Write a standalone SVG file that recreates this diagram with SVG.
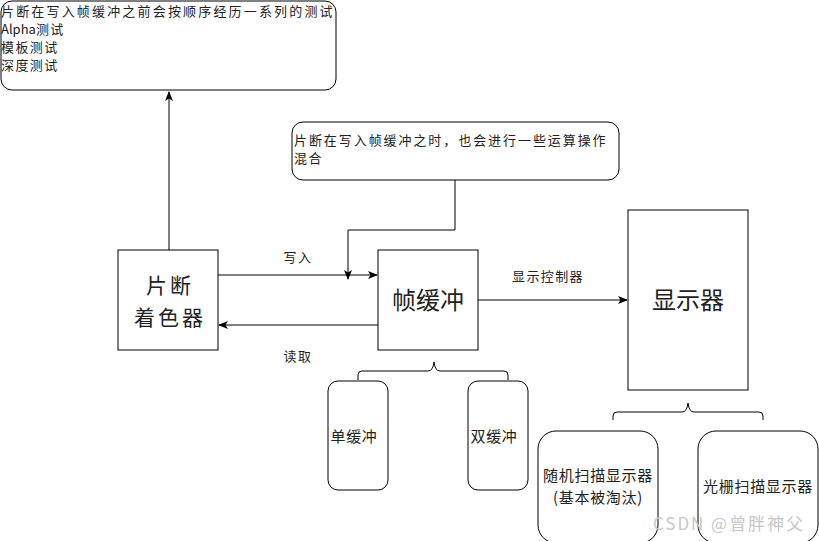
<svg xmlns="http://www.w3.org/2000/svg" width="819" height="541" viewBox="0 0 819 541">
<style>
text{font-family:"Noto Sans CJK SC","Liberation Sans",sans-serif;fill:#222}
.box{fill:#fff;stroke:#000;stroke-width:1}
.ln{fill:none;stroke:#000;stroke-width:1}
.s{font-size:13px;letter-spacing:1.4px}
.b{font-size:24px}
.b2{font-size:21px;letter-spacing:3px}
.m{font-size:15px;letter-spacing:0.7px}
</style>
<defs>
<marker id="ah" viewBox="0 0 10 10" refX="9" refY="5" markerWidth="10" markerHeight="10" markerUnits="userSpaceOnUse" orient="auto">
<path d="M0,1 L10,5 L0,9 L2.5,5 Z" fill="#000"/>
</marker>
</defs>
<rect width="819" height="541" fill="#fff"/>
<g id="connectors">
<path class="ln" d="M169,250 V92" marker-end="url(#ah)"/>
<path class="ln" d="M455,180 V230 H348 V279" marker-end="url(#ah)"/>
<path class="ln" d="M218,275 H377" marker-end="url(#ah)"/>
<path class="ln" d="M378,325 H219" marker-end="url(#ah)"/>
<path class="ln" d="M478,300 H627" marker-end="url(#ah)"/>
<path class="ln" d="M358,380 V375 Q358,371 362,371 H428 Q433,371 434,362 Q435,371 440,371 H504 Q508,371 508,375 V380"/>
<path class="ln" d="M613,420 V416 Q613,412 617,412 H682 Q687,412 688,403 Q689,412 694,412 H759 Q763,412 763,416 V420"/>
<text class="s" x="298" y="262" text-anchor="middle">写入</text>
<text class="s" x="298" y="361" text-anchor="middle">读取</text>
<text class="s" x="548" y="281" text-anchor="middle">显示控制器</text>
</g>
<g id="note-top">
<rect class="box" x="1" y="1" width="335" height="89" rx="11"/>
<text class="s" x="1" y="16" textLength="333" lengthAdjust="spacing">片断在写入帧缓冲之前会按顺序经历一系列的测试</text>
<text class="s" x="1" y="34"><tspan style="letter-spacing:0">Alpha</tspan>测试</text>
<text class="s" x="1" y="52">模板测试</text>
<text class="s" x="1" y="70">深度测试</text>
</g>
<g id="note-mid">
<rect class="box" x="292" y="122" width="327" height="58" rx="11"/>
<text class="s" x="294" y="145" textLength="313" lengthAdjust="spacing">片断在写入帧缓冲之时，也会进行一些运算操作</text>
<text class="s" x="294" y="163">混合</text>
</g>
<g id="shader">
<rect class="box" x="118" y="250" width="100" height="100"/>
<text class="b2" x="170" y="293" text-anchor="middle">片断</text>
<text class="b2" x="170" y="325" text-anchor="middle">着色器</text>
</g>
<g id="framebuffer">
<rect class="box" x="378" y="250" width="100" height="100"/>
<text class="b" x="428" y="309" text-anchor="middle">帧缓冲</text>
</g>
<g id="display">
<rect class="box" x="628" y="210" width="120" height="180"/>
<text class="b" x="688" y="309" text-anchor="middle">显示器</text>
</g>
<g id="single">
<rect class="box" x="328" y="381" width="60" height="109" rx="10"/>
<text class="m" x="354" y="442" text-anchor="middle">单缓冲</text>
</g>
<g id="double">
<rect class="box" x="468" y="381" width="60" height="109" rx="10"/>
<text class="m" x="494" y="442" text-anchor="middle">双缓冲</text>
</g>
<g id="random">
<rect class="box" x="538" y="431" width="120" height="112" rx="18"/>
<text class="m" x="598" y="481" text-anchor="middle">随机扫描显示器</text>
<text class="m" x="598" y="503" text-anchor="middle">(基本被淘汰)</text>
</g>
<g id="raster">
<rect class="box" x="698" y="431" width="120" height="112" rx="18"/>
<text class="m" x="758" y="492" text-anchor="middle">光栅扫描显示器</text>
</g>
<text x="653" y="530" font-size="17" textLength="150" lengthAdjust="spacing" style="fill:#c8c8c8">CSDN @曾胖神父</text>
</svg>
